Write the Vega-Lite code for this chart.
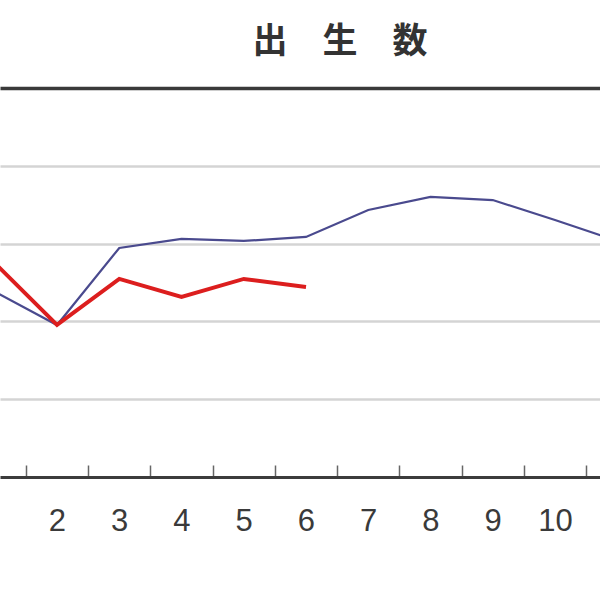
{
  "$schema": "https://vega.github.io/schema/vega-lite/v6.json",
  "width": 600,
  "height": 389,
  "autosize": {"type": "none"},
  "padding": {"top": 88, "left": 0, "right": 0, "bottom": 123},
  "background": "#ffffff",
  "title": {
    "text": "出　生　数",
    "font": "Noto Sans CJK JP",
    "fontSize": 35,
    "fontWeight": "bold",
    "color": "#333333",
    "anchor": "middle",
    "dx": 40,
    "baseline": "middle",
    "offset": 11
  },
  "config": {
    "view": {"stroke": null},
    "axis": {"labelFont": "Liberation Sans"}
  },
  "data": {
    "values": [
      {"month": 1, "series": "前年", "births": 81900},
      {"month": 2, "series": "前年", "births": 79770},
      {"month": 3, "series": "前年", "births": 84720},
      {"month": 4, "series": "前年", "births": 85300},
      {"month": 5, "series": "前年", "births": 85170},
      {"month": 6, "series": "前年", "births": 85430},
      {"month": 7, "series": "前年", "births": 87160},
      {"month": 8, "series": "前年", "births": 88000},
      {"month": 9, "series": "前年", "births": 87800},
      {"month": 10, "series": "前年", "births": 86520},
      {"month": 11, "series": "前年", "births": 85170},
      {"month": 1, "series": "今年", "births": 83750},
      {"month": 2, "series": "今年", "births": 79770},
      {"month": 3, "series": "今年", "births": 82730},
      {"month": 4, "series": "今年", "births": 81570},
      {"month": 5, "series": "今年", "births": 82730},
      {"month": 6, "series": "今年", "births": 82210}
    ]
  },
  "mark": {"type": "line", "clip": true, "strokeJoin": "miter"},
  "encoding": {
    "x": {
      "field": "month",
      "type": "quantitative",
      "scale": {"domain": [1.084, 10.723], "nice": false, "zero": false},
      "axis": {
        "title": null,
        "values": [1.5, 2.5, 3.5, 4.5, 5.5, 6.5, 7.5, 8.5, 9.5, 10.5],
        "labelExpr": "datum.value > 10 ? '' : '' + (datum.value + 0.5)",
        "labelOffset": 31,
        "labelFontSize": 31,
        "labelColor": "#3a3a3a",
        "labelPadding": 41,
        "labelFlush": false,
        "labelOverlap": false,
        "labelBound": false,
        "domainColor": "#3c3c3c",
        "domainWidth": 3,
        "tickColor": "#666666",
        "tickWidth": 1.5,
        "tickSize": -12,
        "grid": false
      }
    },
    "y": {
      "field": "births",
      "type": "quantitative",
      "scale": {"domain": [70000, 95000], "nice": false, "zero": false},
      "axis": {
        "title": null,
        "values": [75000, 80000, 85000, 90000, 95000],
        "labels": false,
        "ticks": false,
        "domain": false,
        "grid": true,
        "gridColor": {"condition": {"test": "datum.value == 95000", "value": "#3a3a3a"}, "value": "#d4d4d4"},
        "gridWidth": {"condition": {"test": "datum.value == 95000", "value": 3.5}, "value": 2.5}
      }
    },
    "color": {
      "field": "series",
      "type": "nominal",
      "scale": {"domain": ["前年", "今年"], "range": ["#4a4a8e", "#dc1e1e"]},
      "legend": null
    },
    "strokeWidth": {
      "field": "series",
      "type": "nominal",
      "scale": {"domain": ["前年", "今年"], "range": [2.2, 4]},
      "legend": null
    }
  }
}
